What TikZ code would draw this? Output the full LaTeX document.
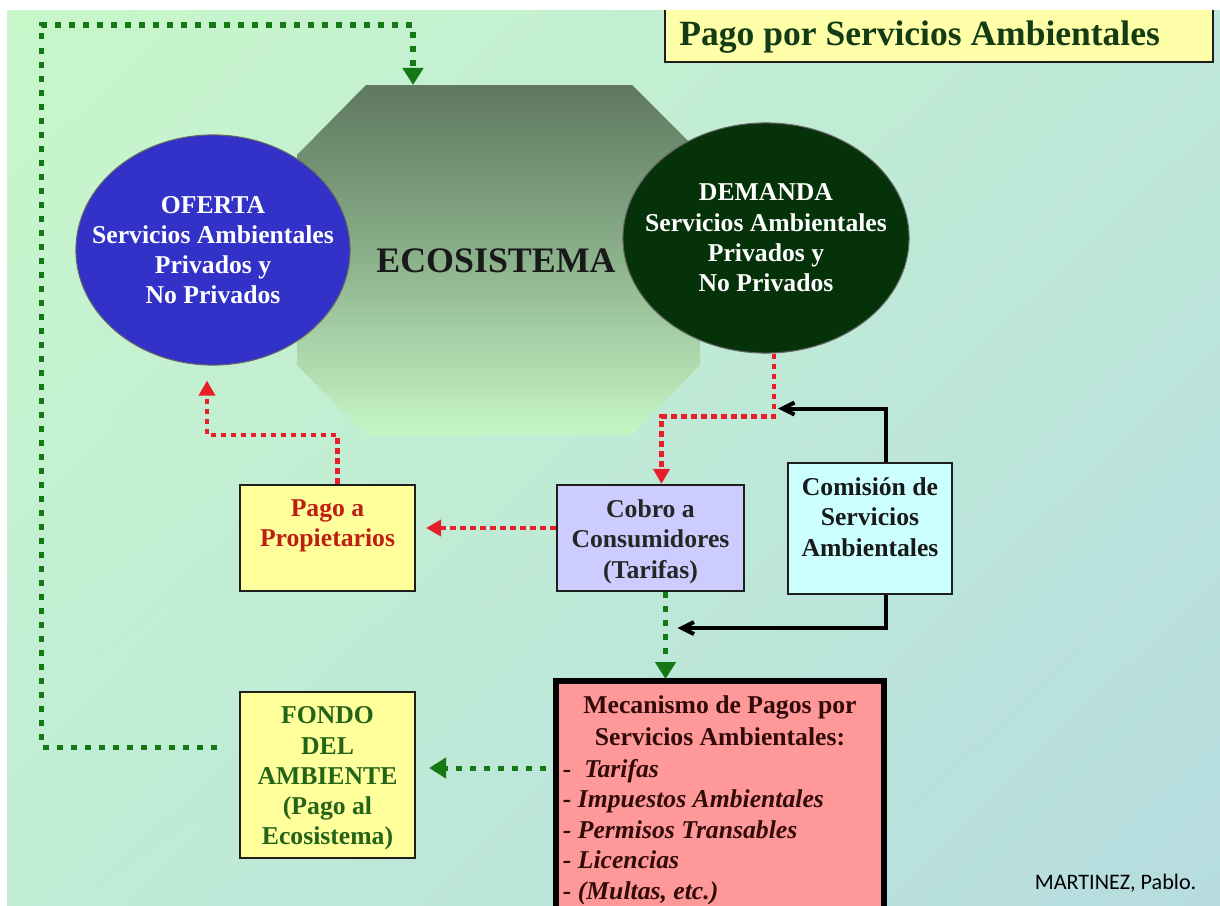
\documentclass[tikz,border=0pt]{standalone}
\usepackage{fontspec}
\setmainfont{Liberation Serif}
\newfontfamily\creditfont{Carlito}
\usepackage{tikz}
\usetikzlibrary{shapes.geometric, positioning, arrows.meta, calc, shadings}
\definecolor{bgul}{RGB}{200,247,202}
\definecolor{bgur}{RGB}{190,232,216}
\definecolor{bgll}{RGB}{192,236,214}
\definecolor{bglr}{RGB}{182,220,224}
\definecolor{ecotop}{RGB}{95,120,95}
\definecolor{ecomid}{RGB}{140,178,140}
\definecolor{ecobot}{RGB}{198,246,198}
\definecolor{ofertablue}{RGB}{50,50,200}
\definecolor{demandagreen}{RGB}{6,50,10}
\definecolor{titlebg}{RGB}{255,255,170}
\definecolor{titletext}{RGB}{20,60,20}
\definecolor{yellowbg}{RGB}{255,255,155}
\definecolor{cobrobg}{RGB}{204,204,255}
\definecolor{comisionbg}{RGB}{204,255,255}
\definecolor{mecbg}{RGB}{255,152,152}
\definecolor{boxframe}{RGB}{30,30,30}
\definecolor{dotred}{RGB}{232,30,40}
\definecolor{dotgreen}{RGB}{20,120,20}
\definecolor{pagotext}{RGB}{190,30,20}
\definecolor{fondotext}{RGB}{35,100,25}
\definecolor{mectext}{RGB}{50,10,10}

\begin{document}
\begin{tikzpicture}[
        x=0.01cm, y=-0.01cm,
        box/.style={draw=boxframe, line width=0.6pt, rectangle, inner sep=0pt},
        boxtext/.style={inner sep=0pt, outer sep=0pt, align=center, font=\fontsize{7.3}{8.6}\selectfont\bfseries},
        circ/.style={ellipse, draw=black!60, line width=0.3pt, inner sep=0pt},
        reddot/.style={draw=dotred, line width=0.045cm, dash pattern=on 0.055cm off 0.045cm, -{Triangle[length=0.15cm, width=0.16cm]}},
        greendot/.style={draw=dotgreen, line width=0.05cm, dash pattern=on 0.06cm off 0.08cm, -{Triangle[length=0.17cm, width=0.2cm]}},
        blackarr/.style={draw=black, line width=0.04cm, -{Straight Barb[length=0.12cm, width=0.12cm]}}
    ]
    \useasboundingbox (0,0) rectangle (1220,906);

    % Background
    \fill[white] (0,0) rectangle (1220,906);
    \shade[upper left=bgul, upper right=bgur, lower left=bgll, lower right=bglr] (7,10) rectangle (1220,906);

    % Ecosistema
    \shade[top color=ecotop, bottom color=ecobot, middle color=ecomid]
        (366,85) -- (632,85) -- (700,153) -- (700,365) -- (632,435) -- (366,435) -- (297,365) -- (297,155) -- cycle;
    \coordinate (ecotop) at (413,85);
    \node[font=\fontsize{10.2}{12}\selectfont\bfseries, text=black!90] (eco) at (496,261) {ECOSISTEMA};

    % Nodes
    \node[circ, fill=ofertablue, minimum width=2.74cm, minimum height=2.30cm] (oferta) at (213,250) {};
    \node[boxtext, text=white] (ofertatxt) at (oferta) {OFERTA\\Servicios Ambientales\\Privados y\\No Privados};
    \node[circ, fill=demandagreen, minimum width=2.86cm, minimum height=2.30cm] (demanda) at (766,238) {};
    \node[boxtext, text=white] (demandatxt) at (demanda) {DEMANDA\\Servicios Ambientales\\Privados y\\No Privados};

    \node[box, fill=titlebg, minimum width=5.48cm, minimum height=0.62cm] (titlebox) at (939,31) {};
    \node[font=\fontsize{10.1}{12}\selectfont\bfseries, text=titletext, inner sep=0pt, anchor=base west] (title) at ($(titlebox.west)+(15,14)$) {Pago por Servicios Ambientales};

    \node[box, fill=yellowbg, minimum width=1.75cm, minimum height=1.06cm] (pago) at (327.5,538) {};
    \node[boxtext, text=pagotext, below=0.16cm of pago.north] (pagotxt) {Pago a\\Propietarios};

    \node[box, fill=cobrobg, minimum width=1.87cm, minimum height=1.06cm] (cobro) at (650.5,538) {};
    \node[boxtext, text=black!85, below=0.16cm of cobro.north] (cobrotxt) {Cobro a\\Consumidores\\(Tarifas)};

    \node[box, fill=comisionbg, minimum width=1.64cm, minimum height=1.31cm] (comision) at (870,528.5) {};
    \node[boxtext, text=black!90, below=0.16cm of comision.north] (comisiontxt) {Comisión de\\Servicios\\Ambientales};

    \node[box, fill=yellowbg, minimum width=1.75cm, minimum height=1.66cm] (fondo) at (327.5,775) {};
    \node[boxtext, text=fondotext, below=0.16cm of fondo.north] (fondotxt) {FONDO\\DEL\\AMBIENTE\\(Pago al\\Ecosistema)};

    \node[box, draw=black, line width=0.06cm, fill=mecbg, minimum width=3.28cm, minimum height=2.46cm] (mec) at (720,804) {};
    \node[boxtext, text=mectext, font=\fontsize{7.3}{9}\selectfont\bfseries, below=0.18cm of mec.north] (mectitle) {Mecanismo de Pagos por\\Servicios Ambientales:};
    \node[boxtext, text=mectext, align=left, font=\fontsize{7.3}{8.7}\selectfont\bfseries\itshape, anchor=north west] (meclist) at ($(mec.north west)+(10,81)$)
        {-\ \ Tarifas\\- Impuestos Ambientales\\- Permisos Transables\\- Licencias\\- (Multas, etc.)};

    \node[font=\creditfont\fontsize{6.3}{7.5}\selectfont, inner sep=0pt, anchor=base east] (credit) at (1197,889) {MARTINEZ, Pablo.};

    % Arrows
    \draw[greendot] ($(fondo.west)+(-22,-28)$) -- ++(-175,0) |- ($(ecotop)+(0,-60)$) -- (ecotop);
    \draw[reddot] ($(demanda.south)+(8,0)$) -- ++(0,63) -| ($(cobro.north)+(11,0)$);
    \draw[blackarr] ($(comision.north)+(16,0)$) |- ($(demanda.south)+(12,55)$);
    \draw[blackarr] ($(comision.south)+(16,0)$) |- ($(cobro.south)+(27,36)$);
    \draw[reddot] ($(cobro.west)+(0,-10)$) -- ($(pago.east)+(10,-10)$);
    \draw[reddot] ($(pago.north)+(10,0)$) -- ++(0,-49) -| ($(oferta.south)+(-6,15)$);
    \draw[greendot] ($(cobro.south)+(15,0)$) -- ++(0,87);
    \draw[greendot] ($(fondo.east)+(130,-7)$) -- ($(fondo.east)+(13,-7)$);

    % Frame edge
    \fill[white] (0,0) rectangle (1220,10);
    \fill[white] (0,0) rectangle (7,906);
\end{tikzpicture}
\end{document}
